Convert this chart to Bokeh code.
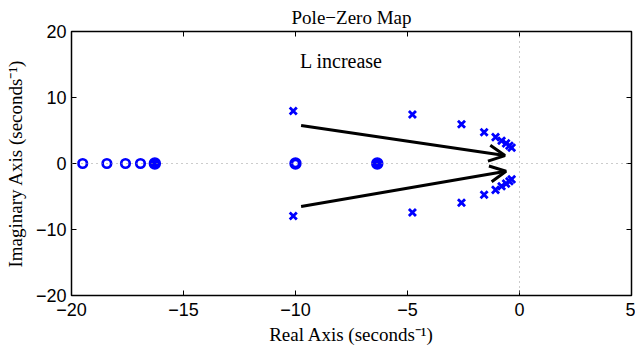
from bokeh.plotting import figure
from bokeh.models import (Range1d, LinearAxis, Span, Arrow, OpenHead, Label,
                          FixedTicker, CustomJSTickFormatter)
from bokeh.embed import file_html
from bokeh.resources import INLINE

# ---- data ----
poles_re = [-10.1, -4.78, -2.59, -1.58, -1.07, -0.8, -0.6, -0.45, -0.35]
poles_im = [7.95, 7.42, 5.95, 4.74, 4.0, 3.45, 3.05, 2.7, 2.4]
zeros_re = [-19.5, -18.42, -17.59, -16.92, -16.28, -10.0, -6.35]
zeros_im = [0, 0, 0, 0, 0, 0, 0]
zeros_mult = [1, 1, 1, 1, 3, 2, 3]
x_ticks = [-20, -15, -10, -5, 0, 5]
y_ticks = [-20, -10, 0, 10, 20]
arrow_start_re = [-9.75, -9.75]
arrow_start_im = [5.75, -6.5]
arrow_end_re = [-0.65, -0.6]
arrow_end_im = [1.2, -1.17]
note_text = "L increase"
note_re, note_im = -9.8, 15.6

SERIF = "Liberation Serif"
SANS = "Liberation Sans"

p = figure(width=635, height=356, output_backend="svg", toolbar_location=None,
           x_range=Range1d(-20, 5), y_range=Range1d(-20, 20),
           min_border_left=71, min_border_right=4, min_border_top=31,
           min_border_bottom=61)
p.background_fill_color = "white"
p.border_fill_color = "white"
p.grid.visible = False
p.outline_line_color = "black"
p.outline_line_width = 1.5

p.title.text = "Pole\u2212Zero Map"
p.title.text_font = SERIF
p.title.text_font_style = "normal"
p.title.text_font_size = "19px"
p.title.text_color = "black"
p.title.align = "center"
p.title.offset = -6
p.title.standoff = 8

fmt = CustomJSTickFormatter(code="return String(tick).replace('-', '\u2212')")
blank = CustomJSTickFormatter(code="return ''")

for ax in (p.xaxis[0], p.yaxis[0]):
    ax.major_label_text_font = SANS
    ax.major_label_text_font_size = "18px"
    ax.major_label_text_color = "black"
    ax.axis_label_text_font = SERIF
    ax.axis_label_text_font_style = "normal"
    ax.axis_label_text_font_size = "19px"
    ax.axis_label_text_color = "black"
    ax.axis_line_color = None
    ax.major_tick_in = 5
    ax.major_tick_out = 0
    ax.minor_tick_line_color = None
    ax.major_tick_line_color = "black"
    ax.formatter = fmt

p.xaxis[0].ticker = FixedTicker(ticks=x_ticks)
p.yaxis[0].ticker = FixedTicker(ticks=y_ticks)
p.xaxis[0].axis_label = "Real Axis (seconds\u207b\u00b9)"
p.yaxis[0].axis_label = "Imaginary Axis (seconds\u207b\u00b9)"
p.xaxis[0].major_label_standoff = 7
p.yaxis[0].major_label_standoff = 5
p.xaxis[0].axis_label_standoff = 5
p.yaxis[0].axis_label_standoff = 7

for loc, tk in (("above", x_ticks), ("right", y_ticks)):
    a = LinearAxis(ticker=FixedTicker(ticks=tk), formatter=blank,
                   axis_line_color=None, major_tick_in=5, major_tick_out=0,
                   minor_tick_line_color=None, major_label_standoff=0)
    p.add_layout(a, loc)

# zero lines
p.add_layout(Span(location=0, dimension="width", line_color="#999999",
                  line_dash="1 4", line_width=1))
p.add_layout(Span(location=0, dimension="height", line_color="#999999",
                  line_dash="1 4", line_width=1))

# poles (conjugate pairs)
pr = poles_re + poles_re
pi = poles_im + [-v for v in poles_im]
p.scatter(pr, pi, marker="x", size=10, line_color="blue", line_width=2.8)

# zeros
single = [i for i, m in enumerate(zeros_mult) if m == 1]
double = [i for i, m in enumerate(zeros_mult) if m == 2]
multi = [i for i, m in enumerate(zeros_mult) if m >= 3]
p.scatter([zeros_re[i] for i in single], [zeros_im[i] for i in single],
          marker="circle", size=8.5, line_color="blue", line_width=2.7, fill_color=None)
p.scatter([zeros_re[i] for i in double], [zeros_im[i] for i in double],
          marker="circle", size=8.5, line_color="blue", line_width=3.9, fill_color=None)
p.scatter([zeros_re[i] for i in multi], [zeros_im[i] for i in multi],
          marker="circle", size=11, line_color="blue", line_width=1.5, fill_color="blue")

# arrows
for x0, y0, x1, y1 in zip(arrow_start_re, arrow_start_im, arrow_end_re, arrow_end_im):
    p.add_layout(Arrow(end=OpenHead(size=16, line_width=3, line_color="black"),
                       x_start=x0, y_start=y0, x_end=x1, y_end=y1,
                       line_width=3, line_color="black"))

p.add_layout(Label(x=note_re, y=note_im, text=note_text, text_font=SERIF,
                   text_font_size="20px", text_baseline="middle", text_color="black"))

open("out.html", "w").write(file_html(p, INLINE))
